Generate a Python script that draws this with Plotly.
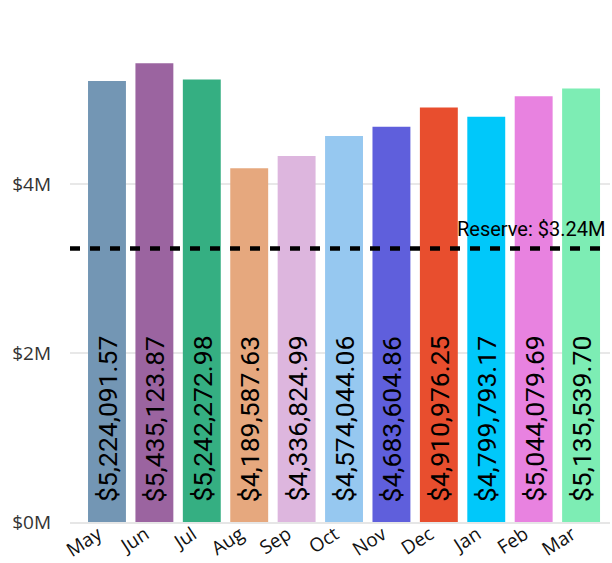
import plotly.graph_objects as go

months = ["May", "Jun", "Jul", "Aug", "Sep", "Oct", "Nov", "Dec", "Jan", "Feb", "Mar"]
revenue = [5224091.57, 5435123.87, 5242272.98, 4189587.63, 4336824.99, 4574044.06,
           4683604.86, 4910976.25, 4799793.17, 5044079.69, 5135539.70]
colors = ["#7396B4", "#9B64A0", "#35AF82", "#E6A87E", "#DDB6DE", "#96C8F0",
          "#5F5FDC", "#E84E2E", "#00C8FA", "#E882E0", "#7DEDB4"]
reserve = 3240000
y_ticks = [0, 2000000, 4000000]
y_tick_labels = ["$0M", "$2M", "$4M"]

label_font = "Roboto, sans-serif"

fig = go.Figure()
fig.add_trace(go.Bar(
    x=months,
    y=revenue,
    marker=dict(color=colors, line=dict(width=0)),
    width=0.8,
    hoverinfo="skip",
))

# value labels written upward from the base of each bar
for m, v in zip(months, revenue):
    fig.add_annotation(x=m, y=0, xref="x", yref="y", text=f"${v:,.2f}",
                       textangle=-90, showarrow=False, xanchor="center", yanchor="bottom",
                       yshift=18, font=dict(family=label_font, size=26.5, color="#000000"))

fig.add_shape(type="line", xref="paper", x0=0, x1=1, yref="y", y0=reserve, y1=reserve,
              line=dict(color="#000000", width=4.5, dash="10px,10px"))
fig.add_annotation(xref="paper", x=0.995, yref="y", y=reserve, text=f"Reserve: ${reserve/1e6:.2f}M",
                   showarrow=False, xanchor="right", yanchor="bottom", yshift=6,
                   font=dict(family=label_font, size=20, color="#000000"))

fig.update_layout(
    width=612, height=563,
    margin=dict(l=70, r=2, t=24, b=41, autoexpand=False),
    plot_bgcolor="white", paper_bgcolor="white",
    showlegend=False,
    bargap=0.2,
    font=dict(family="Open Sans, Noto Sans, sans-serif", color="#222222"),
)
fig.update_xaxes(
    range=[-0.78, 10.61], tickangle=-33, showgrid=False,
    showline=True, linecolor="#E6E6E6", linewidth=2,
    tickfont=dict(size=19, color="#111111"), ticks="",
    ticklabelstandoff=-8, ticklabelshift=-9,
)
fig.update_yaxes(
    range=[0, 5900000], tickvals=y_ticks, ticktext=y_tick_labels,
    showgrid=True, gridcolor="#E8E8E8", gridwidth=2, zeroline=False,
    tickfont=dict(size=19, color="#333333"), ticklabelstandoff=18,
)

fig.write_html("out.html")
